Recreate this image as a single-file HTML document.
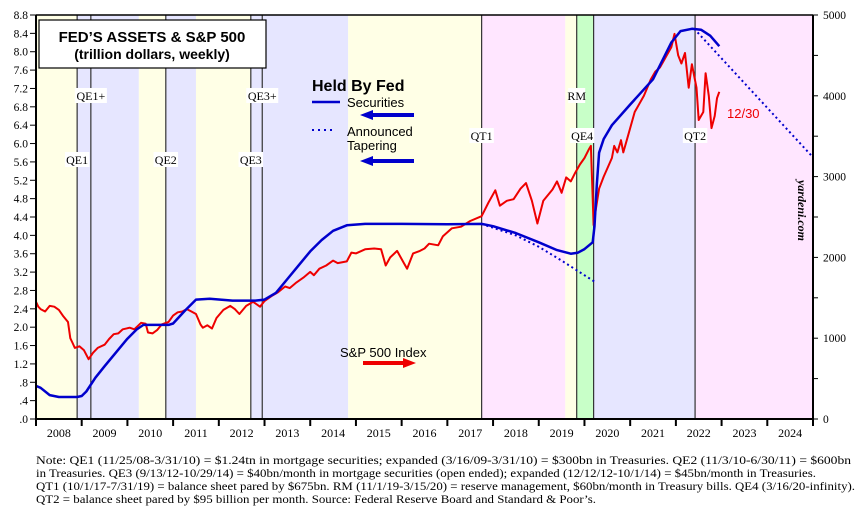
<!DOCTYPE html>
<html><head><meta charset="utf-8">
<style>
body{margin:0;background:#fff;}
svg{display:block;font-family:"Liberation Serif",serif;}
.sans{font-family:"Liberation Sans",sans-serif;}
</style></head>
<body>
<svg id="chart" width="861" height="521" viewBox="0 0 861 521" xmlns="http://www.w3.org/2000/svg">
<g id="bands"></g>
<g id="vlines"></g>
<g id="series"></g>
<g id="axes"></g>
<g>
<rect x="39" y="20" width="227" height="48" fill="#fff" stroke="#000" stroke-width="1.2"/>
<text class="sans" x="152" y="42" font-size="15" font-weight="bold" text-anchor="middle">FED’S ASSETS &amp; S&amp;P 500</text>
<text class="sans" x="152" y="59" font-size="14" font-weight="bold" text-anchor="middle">(trillion dollars, weekly)</text>
</g>
<g>
<text class="sans" x="312" y="91" font-size="16" font-weight="bold">Held By Fed</text>
<line x1="312" y1="102" x2="340" y2="102" stroke="#0000cc" stroke-width="2.5"/>
<text class="sans" x="347" y="107" font-size="13">Securities</text>
<line x1="372" y1="115" x2="414" y2="115" stroke="#0000cc" stroke-width="4"/>
<polygon points="360,115 373,110 373,120" fill="#0000cc"/>
<line x1="312" y1="130" x2="336" y2="130" stroke="#0000cc" stroke-width="2" stroke-dasharray="2,4"/>
<text class="sans" x="347" y="136" font-size="13">Announced</text>
<text class="sans" x="347" y="150" font-size="13">Tapering</text>
<line x1="372" y1="161" x2="414" y2="161" stroke="#0000cc" stroke-width="4"/>
<polygon points="360,161 373,156 373,166" fill="#0000cc"/>
<text class="sans" x="340" y="357" font-size="13">S&amp;P 500 Index</text>
<line x1="363" y1="363" x2="404" y2="363" stroke="#ee0000" stroke-width="4"/>
<polygon points="416,363 403,358 403,368" fill="#ee0000"/>
<text class="sans" x="727" y="118" font-size="13" fill="#ee0000">12/30</text>
<text x="0" y="0" font-size="12" font-weight="bold" font-style="italic" transform="translate(798,180) rotate(90)">yardeni.com</text>
</g>
<g font-size="12">
<text x="36" y="464" textLength="815" lengthAdjust="spacingAndGlyphs">Note: QE1 (11/25/08-3/31/10) = $1.24tn in mortgage securities; expanded (3/16/09-3/31/10) = $300bn in Treasuries. QE2 (11/3/10-6/30/11) = $600bn</text>
<text x="36" y="477" textLength="780" lengthAdjust="spacingAndGlyphs">in Treasuries. QE3 (9/13/12-10/29/14) = $40bn/month in mortgage securities (open ended); expanded (12/12/12-10/1/14) = $45bn/month in Treasuries.</text>
<text x="36" y="490" textLength="819" lengthAdjust="spacingAndGlyphs">QT1 (10/1/17-7/31/19) = balance sheet pared by $675bn. RM (11/1/19-3/15/20) = reserve management, $60bn/month in Treasury bills. QE4 (3/16/20-infinity).</text>
<text x="36" y="503" textLength="560" lengthAdjust="spacingAndGlyphs">QT2 = balance sheet pared by $95 billion per month. Source: Federal Reserve Board and Standard &amp; Poor’s.</text>
</g>
</svg>
<script>
const fedT=[2008.0,2008.1,2008.3,2008.5,2008.9,2009.0,2009.1,2009.3,2009.5,2009.75,2010.0,2010.2,2010.35,2010.9,2011.0,2011.25,2011.5,2011.8,2012.3,2012.8,2013.0,2013.25,2013.5,2013.75,2014.0,2014.25,2014.5,2014.8,2015.2,2016.0,2017.0,2017.75,2018.0,2018.5,2019.0,2019.4,2019.7,2019.85,2020.0,2020.18,2020.22,2020.27,2020.32,2020.42,2020.6,2021.0,2021.5,2021.9,2022.1,2022.35,2022.55,2022.75,2022.95];
const fedV=[0.72,0.68,0.52,0.48,0.48,0.5,0.6,0.9,1.15,1.45,1.75,1.95,2.05,2.05,2.08,2.35,2.6,2.62,2.58,2.58,2.6,2.75,3.05,3.35,3.65,3.9,4.1,4.22,4.25,4.25,4.24,4.25,4.2,4.05,3.85,3.68,3.6,3.62,3.7,3.85,4.2,5.1,5.8,6.1,6.4,6.85,7.4,8.2,8.45,8.5,8.48,8.35,8.12];
const taperAT=[2017.75,2018.5,2019.0,2019.5,2020.24];
const taperAV=[4.25,4.0,3.75,3.45,2.98];
const taperBT=[2022.4,2025.0];
const taperBV=[8.5,5.7];
const spT=[2008.0,2008.05,2008.1,2008.2,2008.3,2008.4,2008.5,2008.6,2008.7,2008.75,2008.8,2008.85,2008.95,2009.05,2009.15,2009.25,2009.35,2009.5,2009.6,2009.7,2009.8,2009.9,2010.05,2010.15,2010.3,2010.4,2010.45,2010.55,2010.65,2010.75,2010.9,2011.0,2011.1,2011.2,2011.3,2011.4,2011.5,2011.6,2011.65,2011.75,2011.85,2011.95,2012.1,2012.25,2012.35,2012.45,2012.6,2012.75,2012.9,2013.0,2013.15,2013.3,2013.45,2013.55,2013.7,2013.85,2014.0,2014.08,2014.2,2014.35,2014.5,2014.6,2014.8,2014.9,2015.0,2015.2,2015.4,2015.55,2015.65,2015.75,2015.9,2016.05,2016.12,2016.25,2016.4,2016.5,2016.6,2016.8,2016.9,2017.1,2017.3,2017.5,2017.75,2017.9,2018.05,2018.15,2018.3,2018.45,2018.6,2018.72,2018.85,2018.97,2019.1,2019.3,2019.4,2019.5,2019.6,2019.7,2019.8,2019.9,2020.0,2020.1,2020.14,2020.2,2020.25,2020.32,2020.42,2020.5,2020.6,2020.65,2020.72,2020.8,2020.85,2020.95,2021.1,2021.3,2021.45,2021.55,2021.65,2021.75,2021.8,2021.9,2021.97,2022.05,2022.12,2022.2,2022.28,2022.35,2022.45,2022.5,2022.6,2022.65,2022.72,2022.78,2022.85,2022.9,2022.95];
const spV=[1450,1390,1360,1330,1400,1390,1350,1270,1200,1000,940,880,900,850,740,820,880,920,990,1050,1060,1110,1130,1110,1190,1180,1070,1060,1100,1170,1200,1280,1320,1330,1360,1330,1300,1170,1130,1160,1120,1250,1350,1400,1360,1300,1400,1450,1390,1460,1520,1570,1640,1620,1690,1750,1820,1780,1860,1900,1960,1930,1950,2060,2050,2100,2110,2100,1900,2000,2080,1930,1860,2050,2080,2110,2170,2150,2260,2360,2380,2450,2510,2680,2830,2640,2700,2720,2850,2920,2700,2420,2700,2840,2940,2800,2990,2940,3050,3150,3230,3340,3380,2400,2600,2850,3000,3100,3230,3380,3300,3450,3300,3500,3800,4000,4200,4300,4350,4450,4500,4600,4766,4500,4400,4530,4100,4390,4100,3700,3800,4280,4000,3600,3750,3970,4050,3850];
const bands=[[2008.0,2008.9,'#ffffe6'],[2008.9,2010.25,'#e6e6ff'],[2010.25,2010.84,'#ffffe6'],[2010.84,2011.5,'#e6e6ff'],[2011.5,2012.7,'#ffffe6'],[2012.7,2014.83,'#e6e6ff'],[2014.83,2017.75,'#ffffe6'],[2017.75,2019.58,'#ffe6ff'],[2019.58,2019.83,'#ffffe6'],[2019.83,2020.2,'#c8ffc8'],[2020.2,2022.42,'#e6e6ff'],[2022.42,2025.0,'#ffe6ff']];
const vlineT=[2008.9,2009.2,2010.84,2012.7,2012.95,2017.75,2019.83,2020.2,2022.42];
const labels=[['QE1+',2009.2,97],['QE1',2008.9,161],['QE2',2010.84,161],['QE3+',2012.95,97],['QE3',2012.7,161],['QT1',2017.75,137],['RM',2019.83,97],['QE4',2019.95,137],['QT2',2022.42,137]];
const leftTicks=[0,0.4,0.8,1.2,1.6,2.0,2.4,2.8,3.2,3.6,4.0,4.4,4.8,5.2,5.6,6.0,6.4,6.8,7.2,7.6,8.0,8.4,8.8];
const rightTicks=[0,1000,2000,3000,4000,5000];
const years=[2008,2009,2010,2011,2012,2013,2014,2015,2016,2017,2018,2019,2020,2021,2022,2023,2024];

const X0=36,X1=813,Y0=419,Y1=15,T0=2008,T1=2025;
const xs=t=>X0+(t-T0)/(T1-T0)*(X1-X0);
const yl=v=>Y0-v/8.8*(Y0-Y1);
const yr=v=>Y0-v/5000*(Y0-Y1);
const NS='http://www.w3.org/2000/svg';
function mk(tag,parent,attrs){const e=document.createElementNS(NS,tag);for(const k in attrs)e.setAttribute(k,attrs[k]);document.getElementById(parent).appendChild(e);return e;}

bands.forEach(b=>{const r=mk('rect','bands',{x:xs(b[0]),y:Y1,width:xs(b[1])-xs(b[0]),height:Y0-Y1,fill:b[2]});

});
vlineT.forEach(t=>{const l=mk('line','vlines',{x1:xs(t),x2:xs(t),y1:Y1,y2:Y0,stroke:'#333','stroke-width':1.2});

});
labels.forEach(a=>{const w=a[0].length*7.5+2;mk('rect','vlines',{x:xs(a[1])-w/2,y:a[2]-9,width:w,height:15,fill:'#fff'});
const t=mk('text','vlines',{x:xs(a[1]),y:a[2]+3,'font-size':12,'text-anchor':'middle'});t.textContent=a[0];

});

function path(T,V,f){return T.map((t,i)=>(i?'L':'M')+xs(t).toFixed(1)+','+f(V[i]).toFixed(1)).join('');}
const sp=mk('path','series',{d:path(spT,spV,yr),fill:'none',stroke:'#ee0000','stroke-width':2,'stroke-linejoin':'round'});


const ta=mk('path','series',{d:path(taperAT,taperAV,yl),fill:'none',stroke:'#0000cc','stroke-width':2,'stroke-dasharray':'2,3'});


const tb=mk('path','series',{d:path(taperBT,taperBV,yl),fill:'none',stroke:'#0000cc','stroke-width':2,'stroke-dasharray':'2,3'});


const fd=mk('path','series',{d:path(fedT,fedV,yl),fill:'none',stroke:'#0000cc','stroke-width':2.5,'stroke-linejoin':'round'});



mk('line','axes',{x1:X0,x2:X1,y1:Y1,y2:Y1,stroke:'#000','stroke-width':1.5});
mk('line','axes',{x1:X0,x2:X0,y1:Y1,y2:Y0,stroke:'#000','stroke-width':2});
mk('line','axes',{x1:X1,x2:X1,y1:Y1,y2:Y0+6,stroke:'#000','stroke-width':2});
mk('line','axes',{x1:X0,x2:X1,y1:Y0,y2:Y0,stroke:'#000','stroke-width':2});
leftTicks.forEach(v=>{mk('line','axes',{x1:X0-6,x2:X0,y1:yl(v),y2:yl(v),stroke:'#000'});
let s=v.toFixed(1);if(v<1)s=s.slice(1);
const t=mk('text','axes',{x:X0-8,y:yl(v)+4,'font-size':11.5,'text-anchor':'end'});t.textContent=s;

});
for(let v=0;v<=5000;v+=500){mk('line','axes',{x1:X1,x2:X1+5,y1:yr(v),y2:yr(v),stroke:'#000'});}
rightTicks.forEach(v=>{const t=mk('text','axes',{x:X1+10,y:yr(v)+4,'font-size':11.5});t.textContent=v;

});
for(let y=T0;y<=T1;y++){mk('line','axes',{x1:xs(y),x2:xs(y),y1:Y0,y2:Y0+7,stroke:'#000','stroke-width':2});}
years.forEach(y=>{const t=mk('text','axes',{x:xs(y+0.5),y:437,'font-size':12,'text-anchor':'middle'});t.textContent=y;

});
</script>
</body></html>
